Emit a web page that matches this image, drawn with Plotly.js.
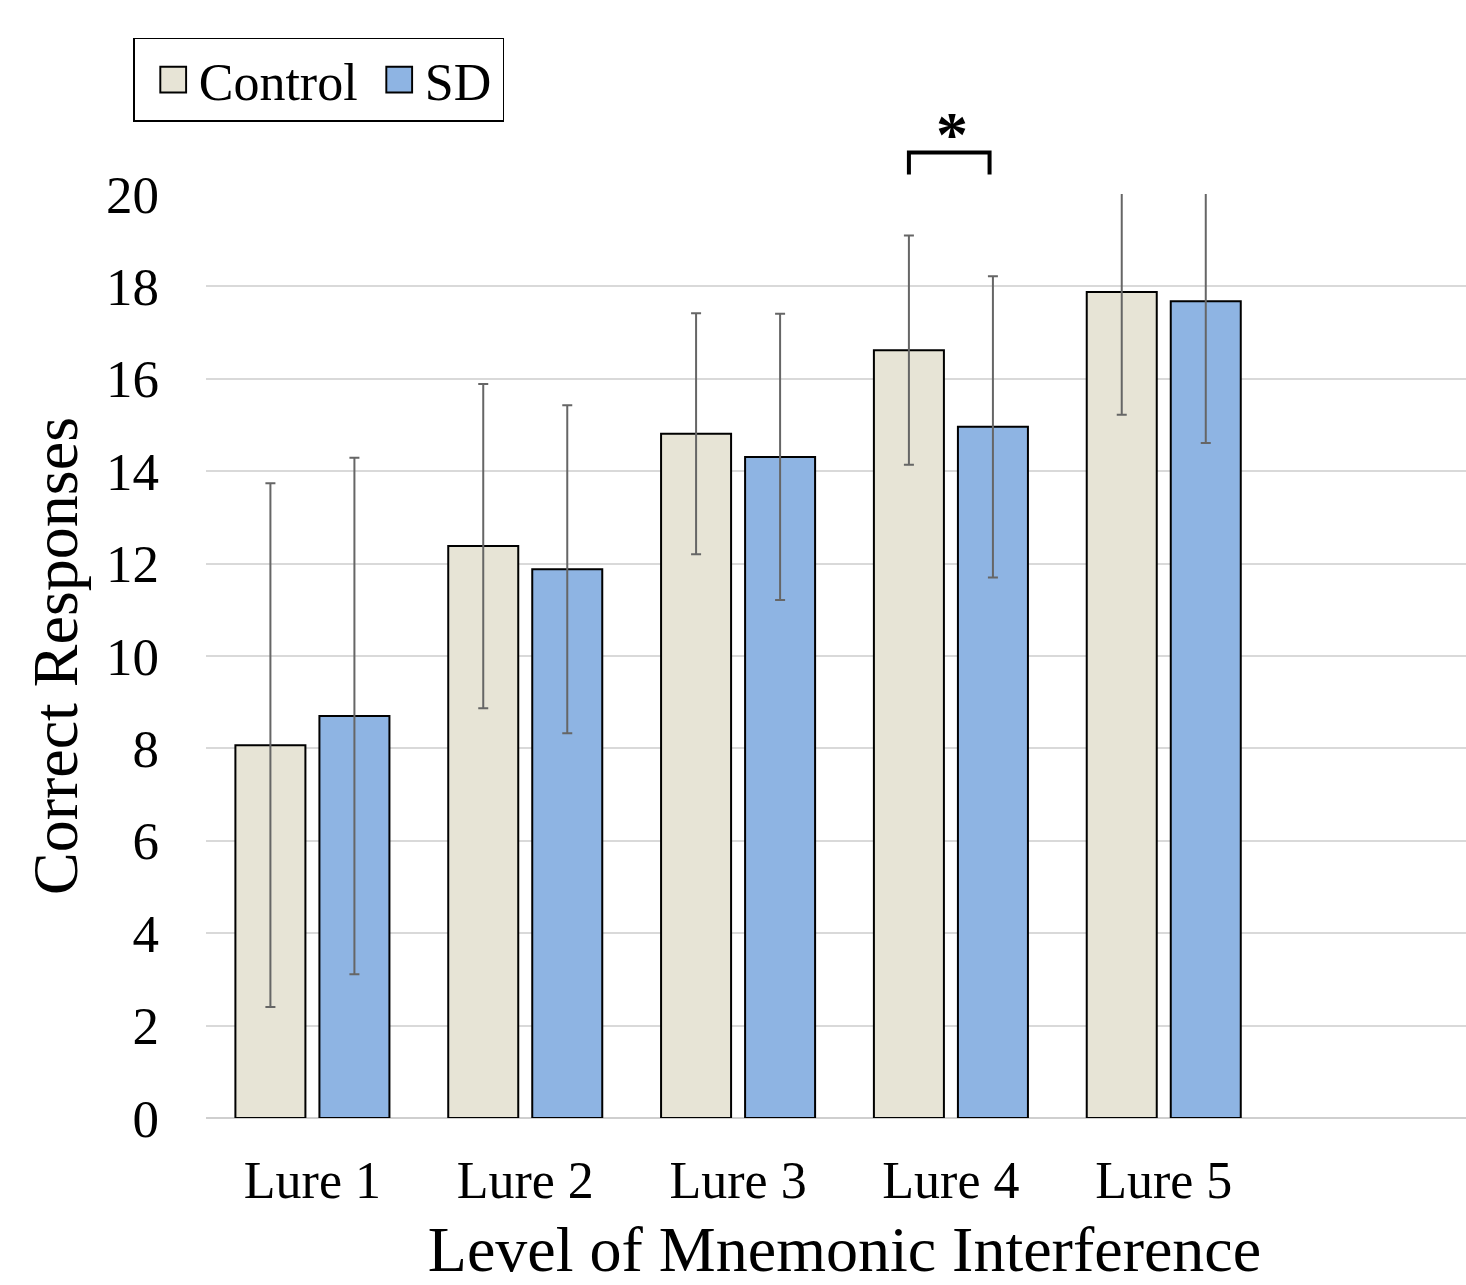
<!DOCTYPE html>
<html>
<head>
<meta charset="utf-8">
<script src="https://cdn.plot.ly/plotly-3.0.1.min.js"></script>
<style>
html,body{margin:0;padding:0;overflow:hidden;background:#fff;}
#chart{width:1483px;height:1285px;}
</style>
</head>
<body>
<div id="chart"></div>
<script>
// ---- data ----
var categories = ['Lure 1', 'Lure 2', 'Lure 3', 'Lure 4', 'Lure 5'];
var controlValues = [8.07, 12.38, 14.81, 16.62, 17.88];
var controlErrors = [5.67, 3.51, 2.61, 2.48, 2.66];
var sdValues = [8.70, 11.88, 14.31, 14.96, 17.68];
var sdErrors = [5.59, 3.55, 3.10, 3.26, 3.07];
var yTickValues = [0, 2, 4, 6, 8, 10, 12, 14, 16, 18, 20];
var significantIndex = 3; // Lure 4
var significanceLabel = '*';

// ---- style ----
var FONT = '"Liberation Serif", "Times New Roman", serif';
var BARGAP = 0.2105;
var nSlots = 6; // axis range leaves one empty slot on the right
var slotOffset = (1 - BARGAP) / 4;

function errStyle(arr) {
  return {type: 'data', array: arr, visible: true, color: '#666666', thickness: 2, width: 5};
}

var traces = [
  {
    type: 'bar', name: 'Control', x: categories, y: controlValues,
    marker: {color: '#E7E4D6', line: {color: '#000000', width: 2}},
    error_y: errStyle(controlErrors), hoverinfo: 'skip', legendwidth: 157
  },
  {
    type: 'bar', name: 'SD', x: categories, y: sdValues,
    marker: {color: '#8EB4E3', line: {color: '#000000', width: 2}},
    error_y: errStyle(sdErrors), hoverinfo: 'skip', legendwidth: 73
  }
];

function xPaper(idx, off) { return (idx + off + 0.5) / nSlots; }
var bx1 = xPaper(significantIndex, -slotOffset);
var bx2 = xPaper(significantIndex, slotOffset * 0.92);
var yLow = 1.021, yHigh = 1.045;

var layout = {
  width: 1483, height: 1285,
  margin: {l: 206, r: 0, t: 194, b: 167},
  paper_bgcolor: '#ffffff', plot_bgcolor: '#ffffff',
  font: {family: FONT, color: '#000000', size: 52},
  barmode: 'group', bargap: BARGAP, bargroupgap: 0.1667,
  showlegend: true,
  legend: {
    orientation: 'h', x: -0.057, xanchor: 'left', y: 1.169, yanchor: 'top',
    bordercolor: '#000000', borderwidth: 1.5, bgcolor: '#ffffff',
    font: {family: FONT, size: 52, color: '#000000'},
    traceorder: 'normal', itemwidth: 54
  },
  xaxis: {
    type: 'category', range: [-0.5, 5.5],
    showgrid: false, showline: false, ticks: '', zeroline: false,
    tickfont: {family: FONT, size: 52, color: '#000000'},
    ticklabelstandoff: 27,
    title: {text: 'Level of Mnemonic Interference', font: {family: FONT, size: 64, color: '#000000'}, standoff: 24},
    automargin: false, fixedrange: true
  },
  yaxis: {
    range: [0, 20], tickvals: yTickValues,
    showgrid: true, gridcolor: '#d9d9d9', gridwidth: 2,
    zeroline: true, zerolinecolor: '#cfcfcf', zerolinewidth: 2,
    showline: false, ticks: '',
    tickfont: {family: FONT, size: 53, color: '#000000'},
    ticklabelstandoff: 46,
    title: {text: 'Correct Responses', font: {family: FONT, size: 64, color: '#000000'}, standoff: 7},
    automargin: false, fixedrange: true
  },
  shapes: [{
    type: 'path', xref: 'paper', yref: 'paper',
    path: 'M' + bx1 + ',' + yLow + ' L' + bx1 + ',' + yHigh + ' L' + bx2 + ',' + yHigh + ' L' + bx2 + ',' + yLow,
    line: {color: '#000000', width: 4}
  }],
  annotations: [{
    xref: 'paper', yref: 'paper', x: (bx1 + bx2) / 2, y: yHigh, xanchor: 'center', yanchor: 'bottom',
    text: '<b>' + significanceLabel + '</b>', showarrow: false, yshift: -20, xshift: 3,
    font: {family: FONT, size: 64, color: '#000000'}
  }]
};

Plotly.newPlot('chart', traces, layout, {staticPlot: true, displayModeBar: false}).then(function () {
  document.querySelectorAll('.legendpoints path').forEach(function (p) {
    var t = p.getAttribute('transform') || '';
    var m = t.match(/translate\(\s*([-\d.]+)[ ,]+([-\d.]+)/);
    var ty = m ? m[2] : 0;
    p.setAttribute('transform', 'translate(38.5,' + ty + ') scale(2.15)');
    p.style.strokeWidth = '0.9px';
  });
});
</script>
</body>
</html>
